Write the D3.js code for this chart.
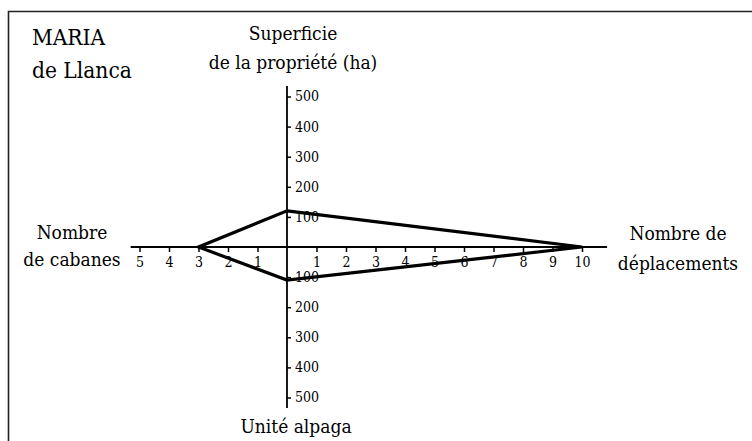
<!DOCTYPE html>
<html>
<head>
<meta charset="utf-8">
<script src="https://cdn.jsdelivr.net/npm/d3@7"></script>
<style>
	body { margin: 0; background: #fff; }
</style>
</head>
<body>
<svg id="chart"></svg>
<script>
// values of the profile, one per axis
const axisNames = ["Superficie de la propriété (ha)", "Nombre de déplacements", "Unité alpaga", "Nombre de cabanes"];
const profileValues = [120, 10, 110, 3];

// tick labels
const xTicksLeft = [5, 4, 3, 2, 1];
const xTicksRight = [1, 2, 3, 4, 5, 6, 7, 8, 9, 10];
const yTicks = [100, 200, 300, 400, 500];

const serif = "'DejaVu Serif Condensed', 'DejaVu Serif', serif";

const viewWidth = 752
const viewHeight = 441

const svg = d3.select("#chart")
	.attr("width", viewWidth)
	.attr("height", viewHeight)
	.attr("font-family", serif);

// frame (only top and left edges are visible)
svg.append("path")
	.attr("d", "M8.5," + viewHeight + "V11.5H" + viewWidth)
	.attr("fill", "none")
	.attr("stroke", "#222")
	.attr("stroke-width", 1.6);

const cx = 287, cy = 247;

const x = d3.scaleLinear()
	.domain([-10, 10])
	.range([cx - 295, cx + 295]);

const y = d3.scaleLinear()
	.domain([-500, 500])
	.range([cy + 150.5, cy - 150.5]);

// axis lines
svg.append("line")
	.attr("x1", x(-5.3)).attr("x2", x(10.85))
	.attr("y1", cy).attr("y2", cy)
	.attr("stroke", "#000").attr("stroke-width", 1.8);

svg.append("line")
	.attr("x1", cx).attr("x2", cx)
	.attr("y1", y(535)).attr("y2", y(-535))
	.attr("stroke", "#000").attr("stroke-width", 1.8);

// horizontal ticks
const xTickVals = xTicksLeft.map(d => -d).concat(xTicksRight);
const xAxis = svg.append("g")
	.attr("transform", "translate(0," + cy + ")")
	.call(d3.axisBottom(x)
		.tickValues(xTickVals)
		.tickFormat(d => Math.abs(d))
		.tickSize(5)
		.tickPadding(5));
xAxis.attr("font-family", serif).attr("font-size", 14);
xAxis.select(".domain").remove();
xAxis.selectAll(".tick line").attr("stroke", "#000").attr("stroke-width", 1.5);
xAxis.selectAll(".tick text").attr("fill", "#000");

// vertical ticks (both halves labelled with positive values)
const yTickVals = yTicks.concat(yTicks.map(d => -d));
const yAxis = svg.append("g")
	.attr("transform", "translate(" + cx + ",0)")
	.call(d3.axisRight(y)
		.tickValues(yTickVals)
		.tickFormat(d => Math.abs(d))
		.tickSize(4)
		.tickPadding(4));
yAxis.attr("font-family", serif).attr("font-size", 14);
yAxis.select(".domain").remove();
yAxis.selectAll(".tick line").attr("stroke", "#000").attr("stroke-width", 1.5);
yAxis.selectAll(".tick text").attr("fill", "#000");

// profile polygon
const pts = [
	[x(0), y(profileValues[0])],
	[x(profileValues[1]), y(0)],
	[x(0), y(-profileValues[2])],
	[x(-profileValues[3]), y(0)]
];
svg.append("path")
	.attr("d", d3.line()(pts) + "Z")
	.attr("fill", "none")
	.attr("stroke", "#000")
	.attr("stroke-width", 3.2)
	.attr("stroke-linejoin", "miter");

// texts
function lines(xPos, yPos, arr, size, anchor, gap) {
	const t = svg.append("text")
		.attr("x", xPos)
		.attr("y", yPos)
		.attr("text-anchor", anchor)
		.attr("font-family", serif)
		.attr("font-size", size)
		.attr("fill", "#000");
	arr.forEach((s, i) => {
		t.append("tspan").attr("x", xPos).attr("dy", i === 0 ? 0 : gap).text(s);
	});
}

lines(32, 45, ["MARIA", "de Llanca"], 22.5, "start", 33);
lines(293, 40, ["Superficie", "de la propriété (ha)"], 19, "middle", 29);
lines(72, 239, ["Nombre", "de cabanes"], 19, "middle", 27);
lines(678, 240, ["Nombre de", "déplacements"], 19, "middle", 30);
lines(296, 433, ["Unité alpaga"], 19, "middle", 0);
</script>
</body>
</html>
